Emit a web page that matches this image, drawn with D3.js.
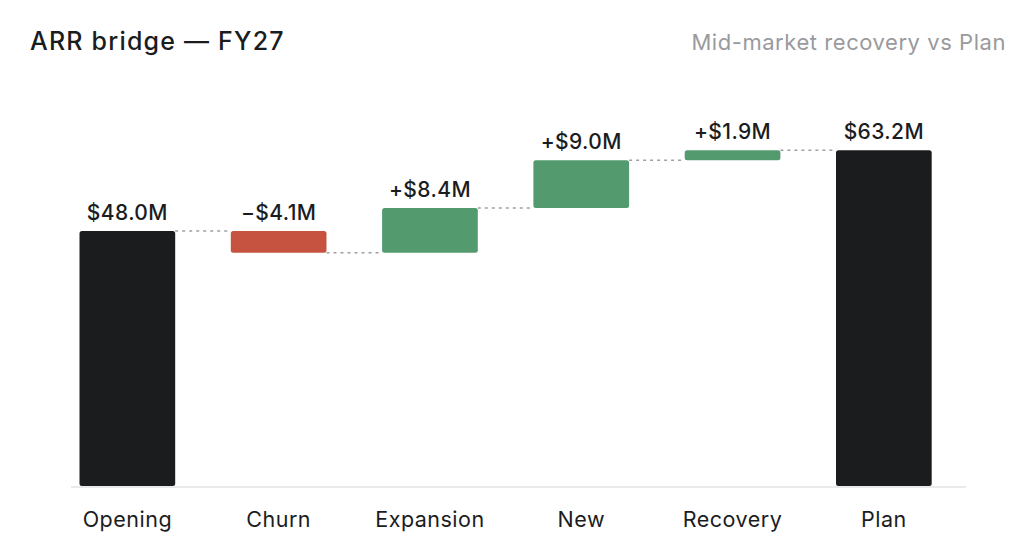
<!DOCTYPE html>
<html>
<head>
<meta charset="utf-8">
<script src="https://cdn.jsdelivr.net/npm/d3@7"></script>
<style>
  html, body { margin: 0; padding: 0; background: #fff; }
  svg { display: block; font-family: Inter, "Helvetica Neue", Arial, sans-serif; }
</style>
</head>
<body>
<svg id="chart" width="1036" height="556"></svg>
<script>
// waterfall steps
const categories = ["Opening", "Churn", "Expansion", "New", "Recovery", "Plan"];
const deltas = [48.0, -4.1, 8.4, 9.0, 1.9, 63.2];
const kinds = ["total", "delta", "delta", "delta", "delta", "total"];
const yTicks = [0, 70];

const width = 1036, height = 556;
const svg = d3.select("#chart");

// running totals -> start/end for each bar
let running = 0;
const steps = categories.map((c, i) => {
  let y0, y1;
  if (kinds[i] === "total") {
    y0 = 0; y1 = deltas[i]; running = deltas[i];
  } else {
    y0 = running; y1 = running + deltas[i]; running = y1;
  }
  return { cat: c, value: deltas[i], kind: kinds[i], y0, y1 };
});

const x = d3.scaleBand().domain(categories).range([51.7, 959.5])
  .paddingInner(0.3675).paddingOuter(0.18375);
const y = d3.scaleLinear().domain(yTicks).range([486, 114]);

const colour = d => d.kind === "total" ? "#1b1c1e" : (d.value < 0 ? "#c5533f" : "#539a6f");
const fmt = d => {
  const s = "$" + d3.format(".1f")(Math.abs(d.value)) + "M";
  if (d.kind === "total") return s;
  return (d.value < 0 ? "\u2212" : "+") + s;
};

// title + subtitle
svg.append("text").attr("x", 30).attr("y", 50)
  .attr("font-size", 25).attr("font-weight", 500).attr("fill", "#1b1c1e")
  .attr("letter-spacing", 1.2)
  .text("ARR bridge \u2014 FY27");
svg.append("text").attr("x", 1006).attr("y", 50).attr("text-anchor", "end")
  .attr("font-size", 22).attr("fill", "#9a9a9e").attr("letter-spacing", 0.55)
  .text("Mid-market recovery vs Plan");

// baseline
svg.append("line").attr("x1", 71).attr("x2", 966)
  .attr("y1", y(0) + 1).attr("y2", y(0) + 1)
  .attr("stroke", "#e3e3e5").attr("stroke-width", 1.5);

// connectors between bars
svg.append("g").selectAll("line").data(steps.slice(0, -1)).join("line")
  .attr("x1", d => x(d.cat) + x.bandwidth())
  .attr("x2", (d, i) => x(categories[i + 1]))
  .attr("y1", d => y(d.y1)).attr("y2", d => y(d.y1))
  .attr("stroke", "#a0a0a4").attr("stroke-width", 1.5)
  .attr("stroke-dasharray", "3 4");

// bars
svg.append("g").selectAll("rect").data(steps).join("rect")
  .attr("x", d => x(d.cat))
  .attr("width", x.bandwidth())
  .attr("y", d => y(Math.max(d.y0, d.y1)))
  .attr("height", d => Math.abs(y(d.y0) - y(d.y1)))
  .attr("rx", 2.5)
  .attr("fill", colour);

// value labels
svg.append("g").selectAll("text").data(steps).join("text")
  .attr("x", d => x(d.cat) + x.bandwidth() / 2)
  .attr("y", d => y(Math.max(d.y0, d.y1)) - 11)
  .attr("text-anchor", "middle")
  .attr("font-size", 21).attr("font-weight", 500).attr("fill", "#1b1c1e")
  .attr("letter-spacing", 0.4)
  .text(fmt);

// category axis
const xAxis = svg.append("g").attr("transform", `translate(0,${y(0)})`)
  .call(d3.axisBottom(x).tickSize(0).tickPadding(26));
xAxis.select(".domain").remove();
xAxis.selectAll("text")
  .attr("font-size", 21.5).attr("fill", "#1b1c1e").attr("letter-spacing", 0.5)
  .attr("font-family", "Inter, 'Helvetica Neue', Arial, sans-serif");
</script>
</body>
</html>
